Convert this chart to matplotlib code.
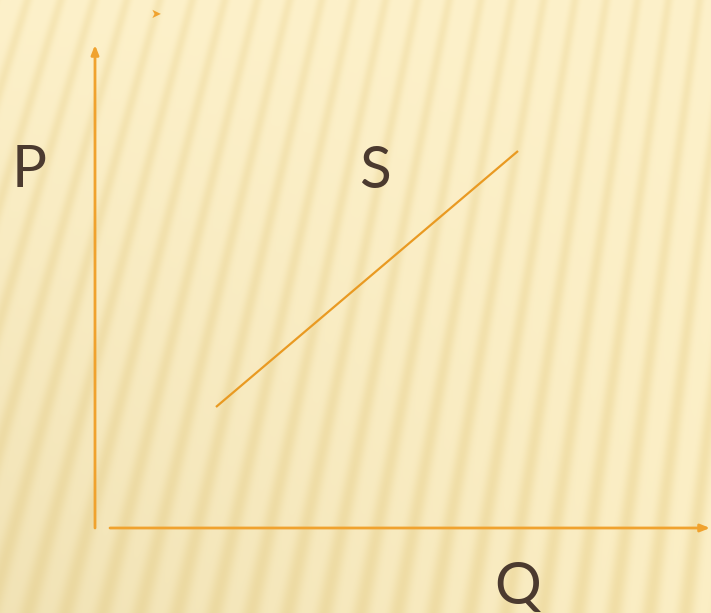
import numpy as np
import matplotlib
matplotlib.use("Agg")
import matplotlib.pyplot as plt

# Supply curve endpoints (Q, P), origin at the axes corner
supply_q = [121, 423]
supply_p = [121, 377]

# Axis extents
p_axis = [0, 483]
q_axis = [15, 615]

# Axis letters: (text, q, p)
labels = [("P", -66, 341), ("S", 280, 340), ("Q", 423, -76)]

ORANGE = "#f0a22e"
LINE = "#e99a22"
INK = "#4b3a2f"

W, H = 711, 613
X0, Y0 = 95, 528          # pixel position of origin

fig = plt.figure(figsize=(W / 100, H / 100), dpi=100)
ax = fig.add_axes([0, 0, 1, 1])
ax.set_xlim(-X0, W - X0)
ax.set_ylim(-(H - Y0), Y0)
ax.axis("off")

# striped background (rays toward a far vanishing point)
yy, xx = np.mgrid[0:H, 0:W].astype(float)
xv, yv = 1250.0, -3950.0
ang = np.arctan2(xv - xx, yy - yv)
phase = ang / 0.0077
t = yy / H
wave = 0.5 * (1 + np.cos(2 * np.pi * phase))
sharp = 4.0 - 2.5 * t
stripe = wave ** sharp
light = np.array([253, 241, 202]) / 255
dark = np.array([241, 222, 165]) / 255
shade = 0.35 * t * (1 - xx / W * 0.6)
base = light[None, None, :] * (1 - shade[..., None]) + dark[None, None, :] * shade[..., None]
amt = (0.55 + 0.35 * t)[..., None] * stripe[..., None]
img = base * (1 - amt) + dark[None, None, :] * amt
img = np.clip(img - 0.03 * (t * (1 - xx / W))[..., None], 0, 1)
ax.imshow(img, extent=[-X0, W - X0, -(H - Y0), Y0], origin="upper",
          aspect="auto", zorder=0, interpolation="bilinear")

arrow = dict(arrowstyle="-|>,head_length=0.55,head_width=0.22",
             color=ORANGE, lw=2, shrinkA=0, shrinkB=0)
ax.annotate("", xy=(0, p_axis[1]), xytext=(0, p_axis[0]), arrowprops=arrow, zorder=2)
ax.annotate("", xy=(q_axis[1], 0), xytext=(q_axis[0], 0), arrowprops=arrow, zorder=2)

ax.plot(supply_q, supply_p, color=LINE, lw=1.6, solid_capstyle="butt", zorder=3)

for txt, q, p in labels:
    ax.text(q, p, txt, fontsize=42, family="Lato", color=INK,
            ha="center", va="baseline", zorder=4)

# slide bullet
ax.text(61, 514, "➤", fontsize=9, color=ORANGE, family="DejaVu Sans",
        ha="center", va="center", zorder=4)

fig.savefig("out.png", dpi=100)
